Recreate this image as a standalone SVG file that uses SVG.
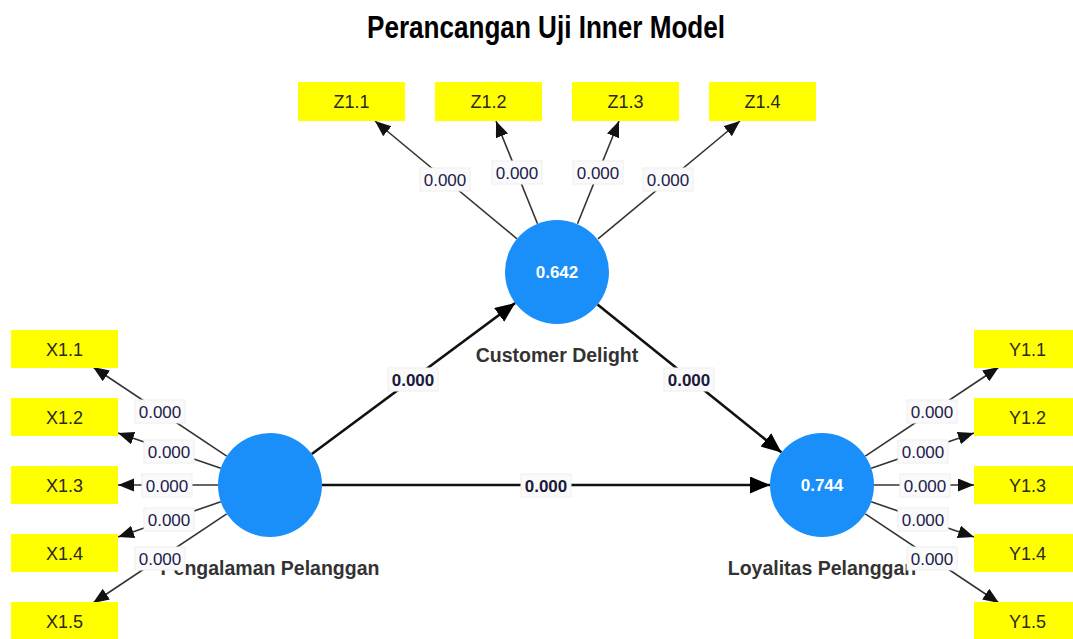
<svg xmlns="http://www.w3.org/2000/svg" width="1073" height="639" viewBox="0 0 1073 639">
<defs>
<style>
.title{font-family:"Liberation Sans",Arial,sans-serif;font-weight:bold;font-size:31px;fill:#000;text-anchor:middle}
.ind rect{fill:#ffff00}
.ind text{font-family:"Liberation Sans",Arial,sans-serif;font-size:18px;fill:#2a2a20;text-anchor:middle}
.lv circle{fill:#1a8ffa}
.lv .val{font-family:"Liberation Sans",Arial,sans-serif;font-weight:bold;font-size:17px;fill:#fff;text-anchor:middle}
.lv .name{font-family:"Liberation Sans",Arial,sans-serif;font-weight:bold;font-size:19.5px;fill:#333;text-anchor:middle}
.outer line{stroke:#333;stroke-width:1.6;marker-end:url(#ah)}
.inner line{stroke:#111;stroke-width:2.6;marker-end:url(#ahb)}
.lbl rect{fill:#fafafa;stroke:#eeeeee;stroke-width:1}
.lbl text{font-family:"Liberation Sans",Arial,sans-serif;font-size:17px;fill:#20204a;text-anchor:middle}
.plbl rect{fill:#fafafa;stroke:#eeeeee;stroke-width:1}
.plbl text{font-family:"Liberation Sans",Arial,sans-serif;font-weight:bold;font-size:17px;fill:#1a1a3a;text-anchor:middle}
</style>
<marker id="ah" markerUnits="userSpaceOnUse" markerWidth="17" markerHeight="14" refX="16" refY="6.5" orient="auto">
<path d="M0,0 L16,6.5 L0,13 z" fill="#111"/>
</marker>
<marker id="ahb" markerUnits="userSpaceOnUse" markerWidth="21" markerHeight="18" refX="20" refY="8.5" orient="auto">
<path d="M0,0 L20,8.5 L0,17 z" fill="#000"/>
</marker>
</defs>
<rect width="1073" height="639" fill="#fff"/>
<text class="title" x="546" y="38" textLength="358" lengthAdjust="spacingAndGlyphs">Perancangan Uji Inner Model</text>

<g id="connectors">
<g class="outer">
<line x1="226.7" y1="456.1" x2="93" y2="367"/>
<line x1="220.8" y1="468.2" x2="118" y2="433"/>
<line x1="218" y1="485" x2="118" y2="485"/>
<line x1="220.8" y1="501.8" x2="118" y2="537"/>
<line x1="226.7" y1="513.9" x2="93" y2="603"/>
<line x1="865.3" y1="456.1" x2="999" y2="367"/>
<line x1="871.2" y1="468.2" x2="974" y2="433"/>
<line x1="874" y1="485" x2="974" y2="485"/>
<line x1="871.2" y1="501.8" x2="974" y2="537"/>
<line x1="865.3" y1="513.9" x2="999" y2="603"/>
<line x1="517" y1="238.8" x2="375" y2="121"/>
<line x1="537.5" y1="223.8" x2="496" y2="121"/>
<line x1="577.5" y1="223.8" x2="619" y2="121"/>
<line x1="598" y1="238.8" x2="740" y2="121"/>
</g>
<g class="inner">
<line x1="311.8" y1="454" x2="515.2" y2="303"/>
<line x1="597.5" y1="304.6" x2="781.5" y2="452.4"/>
<line x1="322" y1="485" x2="770" y2="485"/>
</g>
<g class="lbl">
<rect x="135" y="400" width="50" height="23"/><text x="160" y="417.5">0.000</text>
<rect x="144" y="440" width="50" height="23"/><text x="169" y="457.5">0.000</text>
<rect x="142" y="474" width="50" height="23"/><text x="167" y="491.5">0.000</text>
<rect x="144" y="508" width="50" height="23"/><text x="169" y="525.5">0.000</text>
<rect x="907" y="400" width="50" height="23"/><text x="932" y="417.5">0.000</text>
<rect x="898" y="440" width="50" height="23"/><text x="923" y="457.5">0.000</text>
<rect x="900" y="474" width="50" height="23"/><text x="925" y="491.5">0.000</text>
<rect x="898" y="508" width="50" height="23"/><text x="923" y="525.5">0.000</text>
<rect x="420" y="168" width="50" height="23"/><text x="445" y="185.5">0.000</text>
<rect x="492" y="161" width="50" height="23"/><text x="517" y="178.5">0.000</text>
<rect x="573" y="161" width="50" height="23"/><text x="598" y="178.5">0.000</text>
<rect x="643" y="168" width="50" height="23"/><text x="668" y="185.5">0.000</text>
</g>
<g class="plbl">
<rect x="388" y="368" width="50" height="23"/><text x="413" y="385.5">0.000</text>
<rect x="664" y="368" width="50" height="23"/><text x="689" y="385.5">0.000</text>
<rect x="521" y="474" width="50" height="23"/><text x="546" y="491.5">0.000</text>
</g>
</g>

<g id="node-customer-delight" class="lv">
<circle cx="557" cy="272" r="52"/>
<text class="val" x="557" y="278">0.642</text>
<text class="name" x="557" y="362">Customer Delight</text>
</g>
<g id="node-pengalaman-pelanggan" class="lv">
<circle cx="270" cy="485" r="52"/>
<text class="name" x="270" y="575">Pengalaman Pelanggan</text>
</g>
<g id="node-loyalitas-pelanggan" class="lv">
<circle cx="822" cy="485" r="52"/>
<text class="val" x="822" y="491">0.744</text>
<text class="name" x="822" y="575">Loyalitas Pelanggan</text>
</g>

<g id="connector-labels-front" class="lbl">
<rect x="135" y="547" width="50" height="23"/><text x="160" y="564.5">0.000</text>
<rect x="907" y="547" width="50" height="23"/><text x="932" y="564.5">0.000</text>
</g>

<g id="node-z11" class="ind"><rect x="298" y="82" width="107" height="39"/><text x="351.5" y="108">Z1.1</text></g>
<g id="node-z12" class="ind"><rect x="435" y="82" width="107" height="39"/><text x="488.5" y="108">Z1.2</text></g>
<g id="node-z13" class="ind"><rect x="572" y="82" width="107" height="39"/><text x="625.5" y="108">Z1.3</text></g>
<g id="node-z14" class="ind"><rect x="709" y="82" width="107" height="39"/><text x="762.5" y="108">Z1.4</text></g>

<g id="node-x11" class="ind"><rect x="11" y="330" width="107" height="38"/><text x="64.5" y="356">X1.1</text></g>
<g id="node-x12" class="ind"><rect x="11" y="398" width="107" height="38"/><text x="64.5" y="424">X1.2</text></g>
<g id="node-x13" class="ind"><rect x="11" y="466" width="107" height="38"/><text x="64.5" y="492">X1.3</text></g>
<g id="node-x14" class="ind"><rect x="11" y="534" width="107" height="38"/><text x="64.5" y="560">X1.4</text></g>
<g id="node-x15" class="ind"><rect x="11" y="602" width="107" height="38"/><text x="64.5" y="628">X1.5</text></g>

<g id="node-y11" class="ind"><rect x="974" y="330" width="107" height="38"/><text x="1027.5" y="356">Y1.1</text></g>
<g id="node-y12" class="ind"><rect x="974" y="398" width="107" height="38"/><text x="1027.5" y="424">Y1.2</text></g>
<g id="node-y13" class="ind"><rect x="974" y="466" width="107" height="38"/><text x="1027.5" y="492">Y1.3</text></g>
<g id="node-y14" class="ind"><rect x="974" y="534" width="107" height="38"/><text x="1027.5" y="560">Y1.4</text></g>
<g id="node-y15" class="ind"><rect x="974" y="602" width="107" height="38"/><text x="1027.5" y="628">Y1.5</text></g>
</svg>
